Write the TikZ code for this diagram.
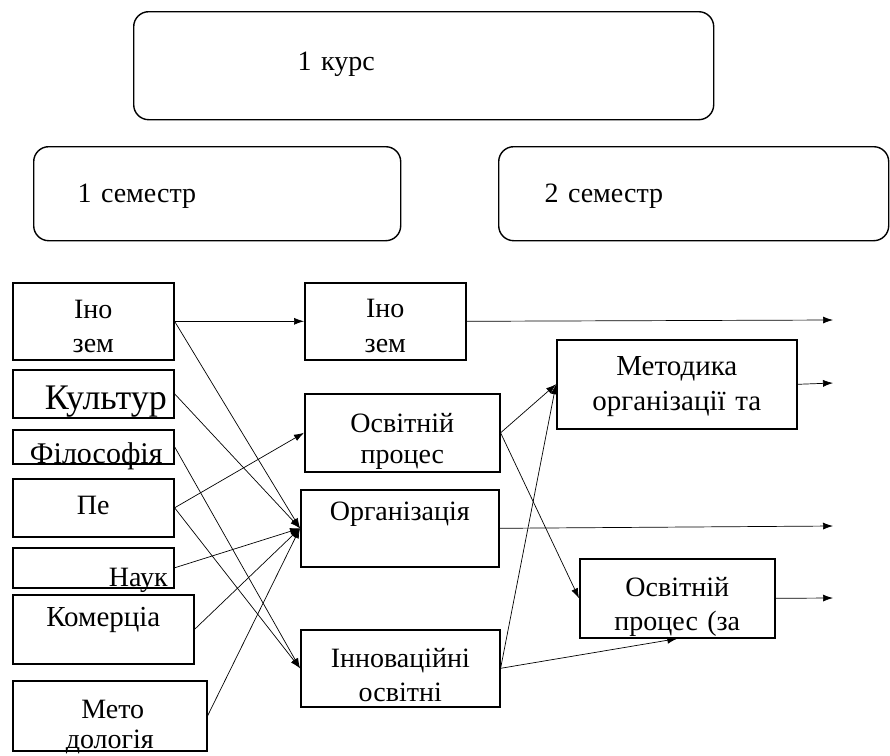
\documentclass[tikz,border=0pt]{standalone}
\usepackage{fontspec}
\setmainfont{Liberation Serif}
\usetikzlibrary{arrows.meta}

\begin{document}
\begin{tikzpicture}[x=1pt, y=-1pt,
    box/.style={draw, line width=1.6pt, anchor=north west, inner sep=0pt, align=center,
        font=\fontsize{28}{34}\selectfont},
    rbox/.style={box, rounded corners=15pt, line width=1.4pt, align=left},
    arr/.style={-{Latex[length=10pt,width=7pt]}, line width=0.7pt}]
    \useasboundingbox (0,0) rectangle (890,755);

    % курс і семестри
    \node[rbox, text width=580pt, text height=59pt, text depth=49pt] (kurs) at (133,11) {\hspace*{164pt}1 курс};
    \node[rbox, text width=367pt, text height=56pt, text depth=38pt] (sem1) at (33,146) {\hspace*{44pt}1 семестр};
    \node[rbox, text width=390pt, text height=56pt, text depth=38pt] (sem2) at (498,146) {\hspace*{46pt}2 семестр};

    % 1 семестр
    \node[box, text width=161pt, text height=36pt, text depth=41pt] (L1) at (12,282) {Іно\\зем};
    \node[box, text width=161pt, text height=40pt, text depth=8pt, align=right,
        font=\fontsize{36}{40}\selectfont] (L2) at (12,369) {Культур\kern7pt};
    \node[box, text width=161pt, text height=34pt, text depth=0pt,
        font=\fontsize{30}{34}\selectfont] (L3) at (12,429) {\hspace*{6pt}Філософія};
    \node[box, text width=161pt, text height=36pt, text depth=22pt] (L4) at (12,478) {Пе};
    \node[box, text width=161pt, text height=39pt, text depth=1pt, align=right] (L5) at (12,547) {Наук\kern6pt};
    \node[box, text width=181pt, text height=32pt, text depth=37pt,
        font=\fontsize{29}{34}\selectfont] (L6) at (12,594) {Комерціа};
    \node[box, text width=194pt, text height=38pt, text depth=32pt,
        font=\fontsize{28}{30}\selectfont] (L7) at (12,680) {\hspace*{6pt}Мето\\дологія};

    \node[box, text width=161pt, text height=35pt, text depth=42pt,
        font=\fontsize{28}{35}\selectfont] (M1) at (304,282) {Іно\\зем};
    \node[box, text width=195pt, text height=39pt, text depth=39pt,
        font=\fontsize{28}{31}\selectfont] (M2) at (304,393) {Освітній\\процес};
    \node[box, text width=198pt, text height=31pt, text depth=46pt] (M3) at (300,489) {Організація};
    \node[box, text width=199pt, text height=38pt, text depth=39pt] (M4) at (300,629) {Інноваційні\\освітні\hspace*{24pt}};

    % 2 семестр
    \node[box, text width=240pt, text height=36pt, text depth=53pt,
        font=\fontsize{29}{35}\selectfont] (R1) at (556,339) {Методика\\організації та};
    \node[box, text width=195pt, text height=38pt, text depth=41pt] (R2) at (579,558) {Освітній\\процес (за};

    \coordinate (e1) at (833,320);
    \coordinate (e2) at (833,383);
    \coordinate (e3) at (833,526);
    \coordinate (e4) at (833,598);

    % зв'язки
    \draw[arr] (L1.east) -- (M1.west);
    \draw[arr] (L1.east) -- (M3.west);
    \draw[arr] (L2.east) -- (M3.west);
    \draw[arr] (L3.east) -- (M4.west);
    \draw[arr] (L4.east) -- (M2.west);
    \draw[arr] (L4.east) -- (M4.west);
    \draw[arr] (L5.east) -- (M3.west);
    \draw[arr] (L6.east) -- (M3.west);
    \draw[arr] (L7.east) -- (M3.west);

    \draw[arr] (M2.east) -- (R1.west);
    \draw[arr] (M2.east) -- (R2.west);
    \draw[arr] (M4.east) -- (R1.west);
    \draw[arr] (M4.east) -- (R2.south);

    \draw[arr] (M1.east) -- (e1);
    \draw[arr] (R1.east) -- (e2);
    \draw[arr] (M3.east) -- (e3);
    \draw[arr] (R2.east) -- (e4);
\end{tikzpicture}
\end{document}
